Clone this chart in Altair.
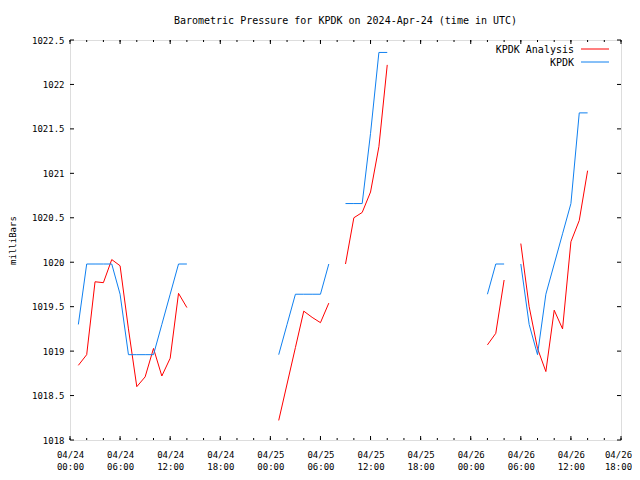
import altair as alt
import pandas as pd

# ---- data (hours since 2024-04-24 00:00 UTC) ----
hours = list(range(1, 63))

kpdk = [
    1019.30, 1019.98, 1019.98, 1019.98, 1019.98, 1019.64, 1018.96, 1018.96, 1018.96, 1018.96,
    1019.30, 1019.64, 1019.98, 1019.98,
    None, None, None, None, None, None, None, None, None, None,
    1018.96, 1019.30, 1019.64, 1019.64, 1019.64, 1019.64, 1019.98,
    None,
    1020.66, 1020.66, 1020.66, 1021.45, 1022.36, 1022.36,
    None, None, None, None, None, None, None, None, None, None, None,
    1019.64, 1019.98, 1019.98,
    None,
    1019.98, 1019.30, 1018.96, 1019.64, 1019.98, 1020.32, 1020.66, 1021.68, 1021.68,
]

analysis = [
    1018.84, 1018.96, 1019.78, 1019.77, 1020.03, 1019.96, 1019.25, 1018.60, 1018.71, 1019.03,
    1018.72, 1018.92, 1019.65, 1019.49,
    None, None, None, None, None, None, None, None, None, None,
    1018.22, 1018.63, 1019.04, 1019.45, 1019.38, 1019.32, 1019.54,
    None,
    1019.98, 1020.50, 1020.56, 1020.79, 1021.30, 1022.22,
    None, None, None, None, None, None, None, None, None, None, None,
    1019.07, 1019.20, 1019.80,
    None,
    1020.21, 1019.50, 1019.03, 1018.77, 1019.46, 1019.25, 1020.23, 1020.47, 1021.03,
]

series_names = ["KPDK Analysis", "KPDK"]
series_colors = ["#ff0000", "#0f80f0"]

tick_hours = [0, 6, 12, 18, 24, 30, 36, 42, 48, 54, 60, 66]
tick_dates = ["04/24", "04/24", "04/24", "04/24", "04/25", "04/25", "04/25", "04/25",
              "04/26", "04/26", "04/26", "04/26"]
tick_times = ["00:00", "06:00", "12:00", "18:00", "00:00", "06:00", "12:00", "18:00",
              "00:00", "06:00", "12:00", "18:00"]
minor_hours = list(range(0, 67, 2))
y_ticks = [1018, 1018.5, 1019, 1019.5, 1020, 1020.5, 1021, 1021.5, 1022, 1022.5]

title = "Barometric Pressure for KPDK on 2024-Apr-24 (time in UTC)"
FONT = "DejaVu Sans Mono"

# ---- build long table with segment ids (gaps break lines) ----
rows = []
for name, vals in zip(series_names, [analysis, kpdk]):
    seg = 0
    prev_none = False
    for h, v in zip(hours, vals):
        if v is None:
            prev_none = True
            continue
        if prev_none:
            seg += 1
            prev_none = False
        rows.append({"hour": h, "mb": v, "series": name, "seg": f"{name}-{seg}"})
df = pd.DataFrame(rows)

W, H = 551, 400

label_pairs = ",".join(f"['{d}','{t}']" for d, t in zip(tick_dates, tick_times))
label_expr = f"[{label_pairs}][round(datum.value/6)]"

xscale = alt.Scale(domain=[0, 66], nice=False, zero=False)
yscale = alt.Scale(domain=[1018, 1022.5], nice=False, zero=False)

lines = alt.Chart(df).mark_line(strokeWidth=1, interpolate="linear").encode(
    x=alt.X("hour:Q", scale=xscale,
            axis=alt.Axis(values=tick_hours, labelExpr=label_expr, title=None,
                          ticks=False, grid=False, domain=False, labelPadding=10,
                          labelFont=FONT, labelFontSize=9, labelColor="black",
                          labelLineHeight=12, labelFlush=False, labelOverlap=False,
                          labelBaseline="top",
                          labelOffset={"condition": {"test": f"datum.value == {tick_hours[-1]}",
                                                     "value": -3}, "value": 0})),
    y=alt.Y("mb:Q", scale=yscale,
            axis=alt.Axis(values=y_ticks, format="~f", title="milliBars", ticks=False,
                          grid=False, domain=False, labelPadding=6, labelFont=FONT,
                          labelFontSize=9, labelColor="black", labelFlush=False,
                          labelOverlap=False, titleFont=FONT, titleFontSize=9,
                          titleFontWeight="normal", titleColor="black", titleX=-58,
                          titleY=200, titleAngle=270, titleAlign="center",
                          titleBaseline="middle")),
    color=alt.Color("series:N", scale=alt.Scale(domain=series_names, range=series_colors),
                    legend=None),
    detail="seg:N",
)

major_df = pd.DataFrame({"hour": tick_hours})
minor_df = pd.DataFrame({"hour": minor_hours})
ytick_df = pd.DataFrame({"mb": y_ticks})

def xticks(data, length):
    bottom = alt.Chart(data).mark_rule(color="black", strokeWidth=1).encode(
        x=alt.X("hour:Q"), y=alt.value(H), y2=alt.value(H - length))
    top = alt.Chart(data).mark_rule(color="black", strokeWidth=1).encode(
        x=alt.X("hour:Q"), y=alt.value(0), y2=alt.value(length))
    return [bottom, top]

yt_left = alt.Chart(ytick_df).mark_rule(color="black", strokeWidth=1).encode(
    y=alt.Y("mb:Q"), x=alt.value(0), x2=alt.value(4))
yt_right = alt.Chart(ytick_df).mark_rule(color="black", strokeWidth=1).encode(
    y=alt.Y("mb:Q"), x=alt.value(W), x2=alt.value(W - 4))

legend_layers = []
for i, (name, col) in enumerate(zip(series_names, series_colors)):
    ldf = pd.DataFrame({"name": [name]})
    legend_layers.append(
        alt.Chart(ldf).mark_text(align="right", baseline="middle", font=FONT,
                                 fontSize=10, color="black").encode(
            text="name:N", x=alt.value(504), y=alt.value(10 + 13 * i)))
    legend_layers.append(
        alt.Chart(ldf).mark_rule(color=col, strokeWidth=1).encode(
            x=alt.value(511), x2=alt.value(539), y=alt.value(9 + 13 * i)))

chart = alt.layer(
    lines, *xticks(minor_df, 2), *xticks(major_df, 4), yt_left, yt_right, *legend_layers
).properties(
    width=W, height=H,
    autosize=alt.AutoSizeParams(type="none"),
    padding={"left": 62, "top": 32, "right": 11, "bottom": 32},
    title=alt.TitleParams(text=title, font=FONT, fontSize=10, fontWeight="normal",
                          color="black", anchor="middle", baseline="bottom", offset=0),
).configure_view(stroke="black", strokeWidth=1).configure(background="white")

chart.save("out.html", embed_options={"renderer": "svg", "actions": False})
